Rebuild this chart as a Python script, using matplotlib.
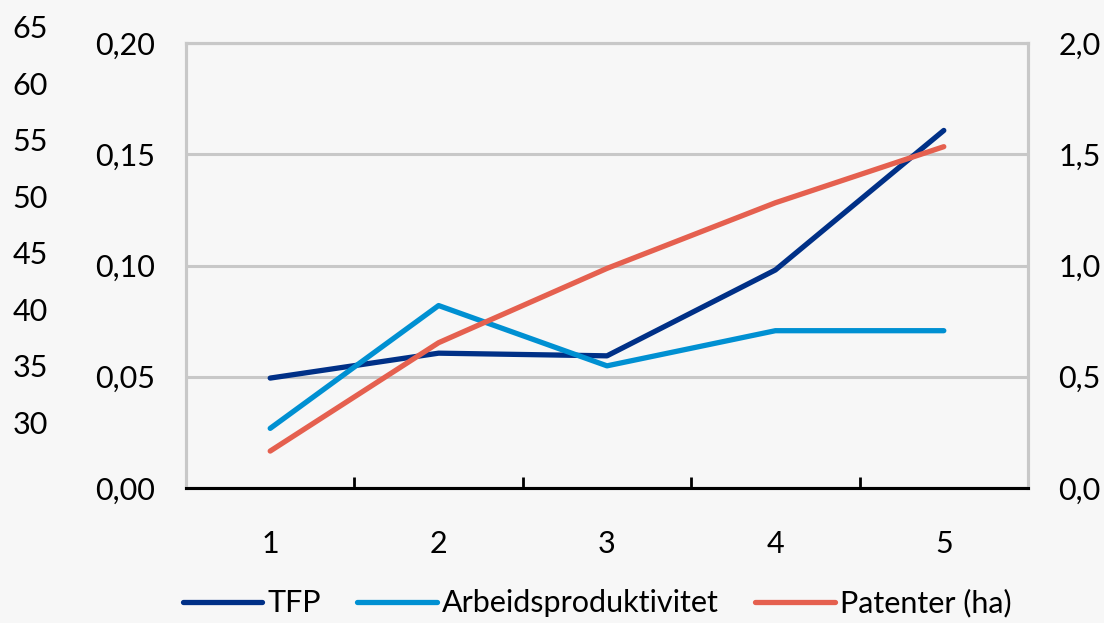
import matplotlib
matplotlib.use("Agg")
import matplotlib.pyplot as plt
from matplotlib.ticker import FixedLocator

categories = [1, 2, 3, 4, 5]
tfp = [0.0494, 0.0606, 0.0594, 0.098, 0.1607]
arbeid = [0.0268, 0.082, 0.0549, 0.0707, 0.0707]
patenter = [0.166, 0.653, 0.987, 1.282, 1.534]
left_ticks = [0.00, 0.05, 0.10, 0.15, 0.20]
right_ticks = [0.0, 0.5, 1.0, 1.5, 2.0]
extra_ticks = [30, 35, 40, 45, 50, 55, 60, 65]

C_TFP = "#003087"
C_ARB = "#0090d2"
C_PAT = "#e5604f"
GRID = "#c8c8c8"
BG = "#f7f7f7"

plt.rcParams['font.family'] = ['Lato', 'DejaVu Sans']
FS = 22

W, H = 1104, 623
fig = plt.figure(figsize=(W / 100, H / 100), dpi=100, facecolor=BG)

L, R, T, B = 186, 1028, 43, 488
ax = fig.add_axes([L / W, (H - B) / H, (R - L) / W, (B - T) / H])
ax.set_facecolor(BG)
ax2 = ax.twinx()

l1, = ax.plot(categories, tfp, color=C_TFP, lw=3.8, solid_capstyle='round', label='TFP', zorder=3)
l2, = ax.plot(categories, arbeid, color=C_ARB, lw=3.8, solid_capstyle='round', label='Arbeidsproduktivitet', zorder=3)
l3, = ax2.plot(categories, patenter, color=C_PAT, lw=3.8, solid_capstyle='round', label='Patenter (ha)', zorder=3)

ax.set_xlim(0.5, 5.5)
ax.set_ylim(0, 0.20)
ax2.set_ylim(0, 2.0)

ax.set_yticks(left_ticks)
ax.set_yticklabels([f"{v:.2f}".replace('.', ',') for v in left_ticks], fontsize=FS)
ax2.set_yticks(right_ticks)
ax2.set_yticklabels([f"{v:.1f}".replace('.', ',') for v in right_ticks], fontsize=FS)
ax.tick_params(axis='y', length=0, pad=22)
ax2.tick_params(axis='y', length=0, pad=22)

ax.xaxis.set_major_locator(FixedLocator([0.5, 1.5, 2.5, 3.5, 4.5, 5.5]))
ax.xaxis.set_minor_locator(FixedLocator(categories))
ax.set_xticklabels([])
ax.set_xticklabels([str(c) for c in categories], minor=True, fontsize=FS)
ax.tick_params(axis='x', which='major', direction='in', length=8, width=2, color='black')
ax.tick_params(axis='x', which='minor', length=0, pad=30)

ax.grid(axis='y', color=GRID, lw=2.2, zorder=1)
ax.set_axisbelow(True)
for a in (ax, ax2):
    for s in ('top', 'left', 'right'):
        a.spines[s].set_color(GRID)
        a.spines[s].set_linewidth(2.2)
    a.spines['bottom'].set_color('black')
    a.spines['bottom'].set_linewidth(2.2)

# leftover axis labels at far left
ax3 = fig.add_axes([48 / W, (H - B) / H, 0.001, (B - 10) / H])
ax3.set_ylim(30 - (B - 422) / 11.286, 30 + (422 - 10) / 11.286)
ax3.patch.set_alpha(0)
for s in ax3.spines.values():
    s.set_visible(False)
ax3.set_xticks([])
ax3.set_yticks(extra_ticks)
ax3.set_yticklabels([str(v) for v in extra_ticks], fontsize=FS)
ax3.tick_params(axis='y', length=0, pad=0)

leg = fig.legend(handles=[l1, l2, l3], loc='center', bbox_to_anchor=(597 / W, (H - 603) / H),
                 ncol=3, frameon=False, fontsize=FS, handlelength=2.6, handletextpad=0.16,
                 columnspacing=1.2)
for h in leg.get_lines():
    h.set_linewidth(3.8)
    h.set_solid_capstyle('round')

fig.savefig("out.png", dpi=100, facecolor=BG)
